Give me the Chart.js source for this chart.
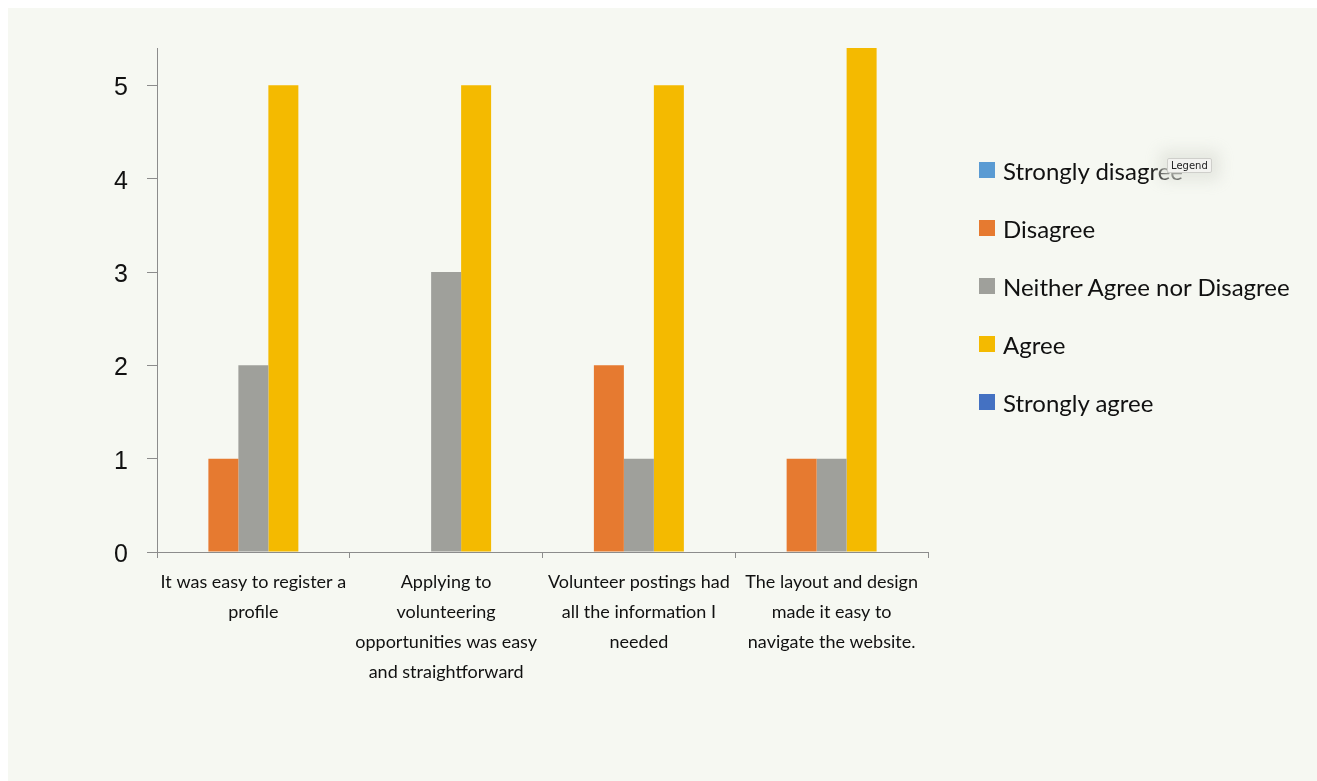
<!DOCTYPE html>
<html>
<head>
<meta charset="utf-8">
<script src="https://cdn.jsdelivr.net/npm/chart.js@4.4.1/dist/chart.umd.min.js"></script>
<style>
  html, body { margin: 0; padding: 0; background: #ffffff; }
  body { width: 1317px; height: 781px; position: relative; overflow: hidden; }
  #panel { position: absolute; left: 8px; top: 8px; width: 1309px; height: 773px; background: #f6f8f2; }
  #chart { position: absolute; left: 0; top: 0; }
  #legend { position: absolute; left: 971px; top: 133px; margin: 0; padding: 0; list-style: none;
            font-family: "Lato", "Open Sans", sans-serif; font-size: 24px; color: #111; }
  #legend li { height: 58px; display: flex; align-items: center; white-space: nowrap; }
  #legend .sw { width: 16px; height: 16px; margin-right: 8px; flex: none; }
  #tip { position: absolute; left: 1159px; top: 150px; padding: 1px 3px; font: 10px "DejaVu Sans", sans-serif;
         color: #222; background: #f3f3f0; border: 1px solid #cfcfcb; border-radius: 2px;
         box-shadow: 0 0 14px 8px rgba(225,228,220,0.8); }
</style>
</head>
<body>
<div id="panel">
  <canvas id="chart" width="1309" height="773"></canvas>
  <ul id="legend"></ul>
  <div id="tip">Legend</div>
</div>
<script>
// Survey statements (x-axis categories), wrapped over several lines
const categories = [
  ["It was easy to register a", "profile"],
  ["Applying to", "volunteering", "opportunities was easy", "and straightforward"],
  ["Volunteer postings had", "all the information I", "needed"],
  ["The layout and design", "made it easy to", "navigate the website."]
];

// Response counts per answer option
const stronglyDisagree = [0, 0, 0, 0];
const disagree         = [1, 0, 2, 1];
const neither          = [2, 3, 1, 1];
const agree            = [5, 5, 5, 5.4];
const stronglyAgree    = [0, 0, 0, 0];

const seriesNames = ["Strongly disagree", "Disagree", "Neither Agree nor Disagree", "Agree", "Strongly agree"];
const seriesColors = ["#5a9bd3", "#e67a30", "#9fa09b", "#f4ba00", "#4471c2"];
const seriesValues = [stronglyDisagree, disagree, neither, agree, stronglyAgree];

// Y axis tick values
const yTicks = [0, 1, 2, 3, 4, 5];
const yMax = 5.4;

const axisColor = "#8c8c8c";

const chart = new Chart(document.getElementById("chart"), {
  type: "bar",
  data: {
    labels: categories,
    datasets: seriesNames.map((name, i) => ({
      label: name,
      data: seriesValues[i],
      backgroundColor: seriesColors[i],
      borderWidth: 0,
      categoryPercentage: 0.778,
      barPercentage: 1.0
    }))
  },
  options: {
    responsive: false,
    animation: false,
    layout: { padding: { left: 0, right: 389, top: 40, bottom: 93 } },
    plugins: {
      legend: { display: false },
      tooltip: { enabled: false }
    },
    scales: {
      x: {
        afterFit: (s) => { s.height = 136; },
        border: { display: true, color: axisColor, width: 1 },
        grid: { offset: true, drawOnChartArea: false, drawTicks: true, tickLength: 6, color: axisColor },
        ticks: {
          padding: 9,
          maxRotation: 0,
          autoSkip: false,
          color: "#111",
          font: { family: "Lato, 'Open Sans', sans-serif", size: 18, lineHeight: 1.67 }
        }
      },
      y: {
        min: 0,
        max: yMax,
        afterFit: (s) => { s.width = 149; },
        afterBuildTicks: (s) => { s.ticks = yTicks.map(v => ({ value: v })); },
        border: { display: true, color: axisColor, width: 1 },
        grid: { drawOnChartArea: false, drawTicks: true, tickLength: 10, color: axisColor },
        ticks: {
          padding: 19,
          labelOffset: 3,
          color: "#111",
          font: { family: "'Liberation Sans', Arial, sans-serif", size: 25 }
        }
      }
    }
  }
});

// Legend list built from the chart's datasets
const ul = document.getElementById("legend");
chart.data.datasets.forEach(ds => {
  const li = document.createElement("li");
  const sw = document.createElement("span");
  sw.className = "sw";
  sw.style.background = ds.backgroundColor;
  li.appendChild(sw);
  li.appendChild(document.createTextNode(ds.label));
  ul.appendChild(li);
});
</script>
</body>
</html>
